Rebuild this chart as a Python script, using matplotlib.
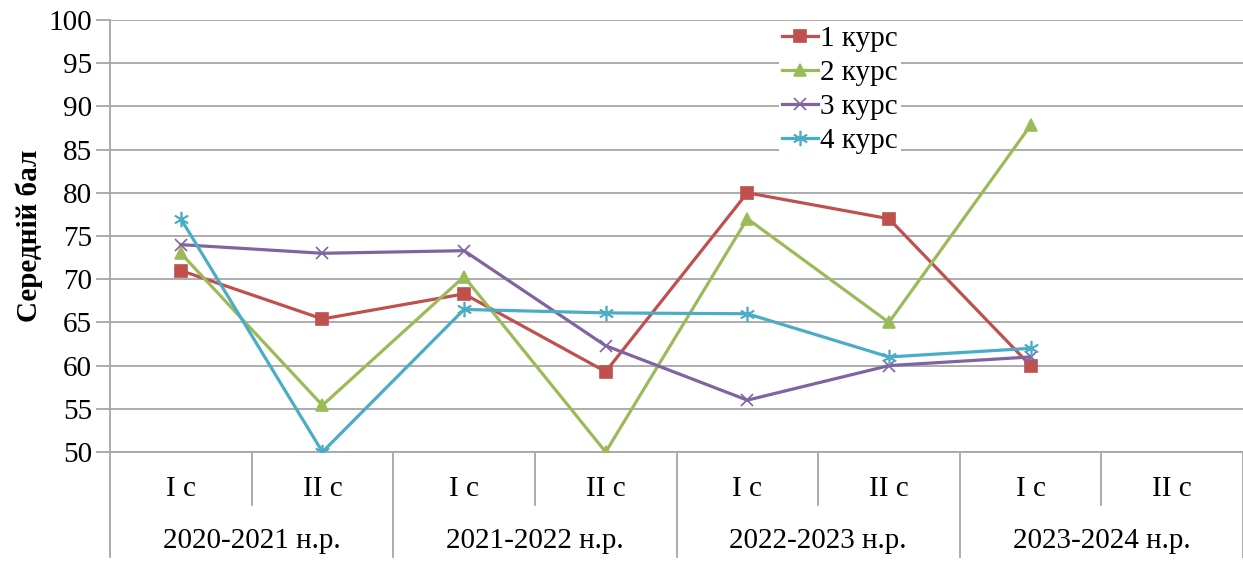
import numpy as np
import matplotlib
matplotlib.use("Agg")
import matplotlib.pyplot as plt
from matplotlib.transforms import blended_transform_factory

plt.rcParams['font.family'] = ['Liberation Serif', 'DejaVu Serif']

semesters = ["I с", "II с", "I с", "II с", "I с", "II с", "I с", "II с"]
years = ["2020-2021 н.р.", "2021-2022 н.р.", "2022-2023 н.р.", "2023-2024 н.р."]

kurs1 = [71, 65.4, 68.3, 59.3, 80, 77, 60, np.nan]
kurs2 = [73, 55.4, 70.3, 50, 77, 65, 87.8, np.nan]
kurs3 = [74, 73, 73.3, 62.3, 56, 60, 61, np.nan]
kurs4 = [77, 50, 66.5, 66.1, 66, 61, 62, np.nan]

series = [
    ("1 курс", kurs1, "#C0504D", "s", 9),
    ("2 курс", kurs2, "#9BBB59", "^", 9),
    ("3 курс", kurs3, "#8064A2", "x", 9),
    ("4 курс", kurs4, "#4BACC6", (6, 2, 0), 11),
]

FS = 21


def main():
    fig = plt.figure(figsize=(12.43, 5.81), dpi=100)
    ax = fig.add_axes([110 / 1243, 1 - 452 / 581, 1133 / 1243, 432 / 581])

    x = np.arange(len(semesters))
    for name, vals, col, mk, ms in series:
        ax.plot(x, vals, color=col, lw=2.3, marker=mk, markersize=ms,
                markeredgewidth=1.2, label=name, zorder=3)

    ax.set_xlim(-0.5, len(semesters) - 0.5)
    ax.set_ylim(50, 100)
    ax.set_yticks(np.arange(50, 101, 5))
    ax.yaxis.grid(True, color="#A6A6A6", lw=1.3)
    ax.set_axisbelow(True)
    ax.tick_params(axis="y", labelsize=FS, length=10, width=1.3,
                   color="#A6A6A6", pad=3)
    ax.set_xticks([])
    for s in ["top", "right"]:
        ax.spines[s].set_visible(False)
    ax.spines["left"].set_color("#A6A6A6")
    ax.spines["bottom"].set_color("#A6A6A6")
    ax.spines["left"].set_linewidth(1.3)
    ax.spines["bottom"].set_linewidth(1.3)

    ax.set_ylabel("Середній бал", fontsize=FS, fontweight="bold", labelpad=4)

    # category axis: semesters and school years
    tr = blended_transform_factory(ax.transData, ax.transAxes)
    for i, lab in enumerate(semesters):
        ax.text(i, -0.085, lab, transform=tr, ha="center", va="center", fontsize=FS)
    for j, lab in enumerate(years):
        ax.text(2 * j + 0.5, -0.205, lab, transform=tr, ha="center", va="center", fontsize=FS)
    for i in range(len(semesters) + 1):
        xs = i - 0.5
        y0 = -0.243 if i % 2 == 0 else -0.123
        ax.plot([xs, xs], [0, y0], transform=tr, color="#A6A6A6", lw=1.3,
                clip_on=False)

    leg = ax.legend(loc="upper left", bbox_to_anchor=(0.588, 1.0), fontsize=FS,
                    frameon=True, fancybox=False, framealpha=1, edgecolor="none",
                    handlelength=1.25, handletextpad=0.05, labelspacing=0.26,
                    borderpad=0.1, borderaxespad=0.1)
    leg.get_frame().set_facecolor("white")

    fig.savefig("out.png", dpi=100)


if __name__ == '__main__':
    main()
